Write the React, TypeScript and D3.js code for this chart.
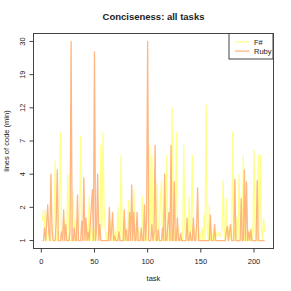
import React from "react";
import * as d3 from "d3";

const tasks: number[] = d3.range(1, 211);

const fsharp: number[] = [
  1.5, 1.9, 1.2, 1.9, 1, 1, 1.3, 1, 1, 1.4,
  1, 1.6, 5, 1, 1.2, 1, 2.2, 8, 1, 1.3,
  1, 1.5, 1, 1.2, 4, 1, 1, 1, 1.4, 2.8,
  1, 1.5, 1, 1, 1.3, 1.7, 7.5, 1, 1.2, 1,
  1.4, 1, 1.3, 1, 2.5, 1, 1.5, 1, 1.3, 1,
  1.4, 1.2, 1, 1.3, 1, 6.5, 1.3, 8, 2, 1.3,
  1, 1.2, 1, 1, 1.5, 1, 1, 1.3, 1, 1.2,
  1, 2, 1, 1, 5.5, 1.3, 1, 1, 1.5, 1,
  1.2, 2.3, 1, 1.4, 1, 1.3, 2.9, 1, 1.4, 1,
  1.3, 1, 1.2, 1, 2.5, 1, 1, 1.3, 1, 1,
  1.5, 6.5, 1.2, 5.5, 1, 1, 1.3, 1, 3.3, 1,
  1.3, 2.4, 3.5, 1, 1.4, 1, 1.2, 5.5, 1, 1.2,
  1, 1, 12, 1.3, 1, 1.4, 8, 1, 1.3, 1,
  1, 1.2, 1, 6.5, 1.3, 1, 1.2, 1, 2.5, 1,
  1.4, 5.5, 1, 1.3, 1, 1.2, 1, 1.3, 1, 1.1,
  1.3, 1, 1.7, 1, 12.5, 1.3, 1, 2.1, 1, 1.2,
  1, 1.3, 1, 1.2, 1.1, 1.1, 1.2, 1.1, 1.1, 1.3,
  3.5, 1.2, 1, 2.4, 1, 1.3, 1, 1.2, 1, 8,
  1, 1.3, 1, 1.6, 1, 4, 1.2, 1, 1.4, 5.5,
  1, 1.2, 1, 1.3, 1, 1.2, 1, 1.3, 1, 6,
  1.2, 1, 1, 5.5, 1, 5.5, 1.3, 1, 1.6, 1.2,
];

const ruby: number[] = [
  1, 1, 1.3, 1, 1.4, 2.1, 1.2, 1, 4, 1.3,
  1, 1, 1, 1.5, 4.3, 1, 1, 1, 1.2, 1,
  1.9, 1, 1.4, 1, 1, 1, 1.2, 30, 1, 1,
  1.3, 1, 1, 2.6, 1, 1, 1, 1.5, 1, 3.7,
  1, 1.6, 1, 1.2, 1, 1.4, 2, 2.9, 1, 26,
  1, 1.3, 4, 1, 1.4, 1, 1, 1, 1, 1,
  1, 1, 1, 2, 1, 1.2, 1.8, 1, 1.1, 1,
  1, 1, 1.2, 1, 1, 1, 1, 1.9, 1, 1.25,
  1, 1, 1.8, 1, 3.2, 1, 1.8, 1, 1, 1.8,
  1, 1, 1, 1.3, 1, 1, 2.1, 1, 1.5, 30,
  1, 1, 1, 1.4, 1, 1.2, 6.5, 1, 1, 1.25,
  1, 1, 1, 1.3, 1, 4, 1, 1, 1.4, 1.8,
  1, 6.5, 1, 1, 3.4, 1, 1, 1.6, 1, 1,
  1.15, 1, 1, 1, 1, 1, 1.6, 1, 1, 1.2,
  1, 1, 1.6, 1, 1, 1.3, 3, 1, 1, 1,
  1, 1, 1, 1, 1, 1, 1, 1, 1.7, 1,
  1, 1, 1.4, 1, 1, 1, 1, 1, 1, 1,
  1, 1, 1, 1.2, 1.35, 1, 1.2, 1.4, 1, 1,
  1, 3.6, 1, 1, 1, 1, 1, 2.4, 1, 1,
  4.3, 1, 3.4, 1, 1.2, 1, 1.25, 1, 1, 1,
  1, 1, 3.5, 1, 1, 1, 1, 1, 1, 1,
];

const yTickLabels: number[] = [1, 2, 4, 7, 12, 19, 30];
const xTicks: number[] = [0, 50, 100, 150, 200];
const seriesNames: string[] = ["F#", "Ruby"];
const seriesColors: string[] = ["#ffff8c", "#ffb681"];

const W = 291;
const H = 291;
const box = { left: 33.5, right: 273.5, top: 33.5, bottom: 248.5 };

export default function App() {
  const n = tasks.length;
  const xPad = (tasks[n - 1] - tasks[0]) * 0.04;
  const x = d3
    .scaleLinear()
    .domain([tasks[0] - xPad, tasks[n - 1] + xPad])
    .range([box.left, box.right]);

  // tick positions equally spaced in the plot, log-interpolated between labels
  const yTop = box.top + (box.bottom - box.top) * (0.04 / 1.08);
  const yBot = box.bottom - (box.bottom - box.top) * (0.04 / 1.08);
  const idx = d3.scaleLinear().domain([0, yTickLabels.length - 1]).range([yBot, yTop]);
  const yLog = d3
    .scaleLinear()
    .domain(yTickLabels.map((v) => Math.log(v)))
    .range(yTickLabels.map((_, i) => idx(i)));
  const y = (v: number) => yLog(Math.log(v));

  const line = d3
    .line<number>()
    .x((_, i) => x(tasks[i]))
    .y((d) => y(d));

  const font = "'Liberation Sans', Arial, Helvetica, sans-serif";
  const axisColor = "#444";
  const textColor = "#222";
  const legend = { x: 229, y: 33.5, w: 44, h: 25.5 };

  return (
    <svg
      width={W}
      height={H}
      style={{ position: "absolute", left: 0, top: 0, background: "#fff" }}
      fontFamily={font}
    >
      <rect width={W} height={H} fill="#fff" />
      <text x={(box.left + box.right) / 2} y={20} textAnchor="middle" fontSize={9.5} fontWeight="bold" fill={textColor}>
        Conciseness: all tasks
      </text>

      <path d={line(fsharp) || ""} fill="none" stroke={seriesColors[0]} strokeWidth={1.3} strokeLinejoin="round" />
      <path d={line(ruby) || ""} fill="none" stroke={seriesColors[1]} strokeWidth={1.3} strokeLinejoin="round" />

      <rect
        x={box.left}
        y={box.top}
        width={box.right - box.left}
        height={box.bottom - box.top}
        fill="none"
        stroke={axisColor}
        strokeWidth={1}
      />

      {/* y axis */}
      <line x1={box.left} x2={box.left} y1={idx(0)} y2={idx(yTickLabels.length - 1)} stroke={axisColor} />
      {yTickLabels.map((v) => (
        <g key={"y" + v}>
          <line x1={box.left - 4} x2={box.left} y1={y(v)} y2={y(v)} stroke={axisColor} />
          <text
            transform={`translate(24.5,${y(v)}) rotate(-90)`}
            textAnchor="middle"
            fontSize={7.5}
            fill={textColor}
          >
            {v}
          </text>
        </g>
      ))}

      {/* x axis */}
      {xTicks.map((v) => (
        <g key={"x" + v}>
          <line x1={x(v)} x2={x(v)} y1={box.bottom} y2={box.bottom + 4} stroke={axisColor} />
          <text x={x(v)} y={264} textAnchor="middle" fontSize={7.5} fill={textColor}>
            {v}
          </text>
        </g>
      ))}

      <text x={(box.left + box.right) / 2} y={280.5} textAnchor="middle" fontSize={7.5} fill={textColor}>
        task
      </text>
      <text
        transform={`translate(8.5,${(box.top + box.bottom) / 2}) rotate(-90)`}
        textAnchor="middle"
        fontSize={7.5}
        fill={textColor}
      >
        lines of code (min)
      </text>

      {/* legend */}
      <rect x={legend.x} y={legend.y} width={legend.w} height={legend.h} fill="#fff" stroke={axisColor} />
      {seriesNames.map((name, i) => (
        <g key={name}>
          <line
            x1={235}
            x2={249.5}
            y1={41.8 + i * 9.3}
            y2={41.8 + i * 9.3}
            stroke={seriesColors[i]}
            strokeWidth={1.3}
          />
          <text x={254} y={44.5 + i * 9.3} fontSize={7.5} fill={textColor}>
            {name}
          </text>
        </g>
      ))}
    </svg>
  );
}
